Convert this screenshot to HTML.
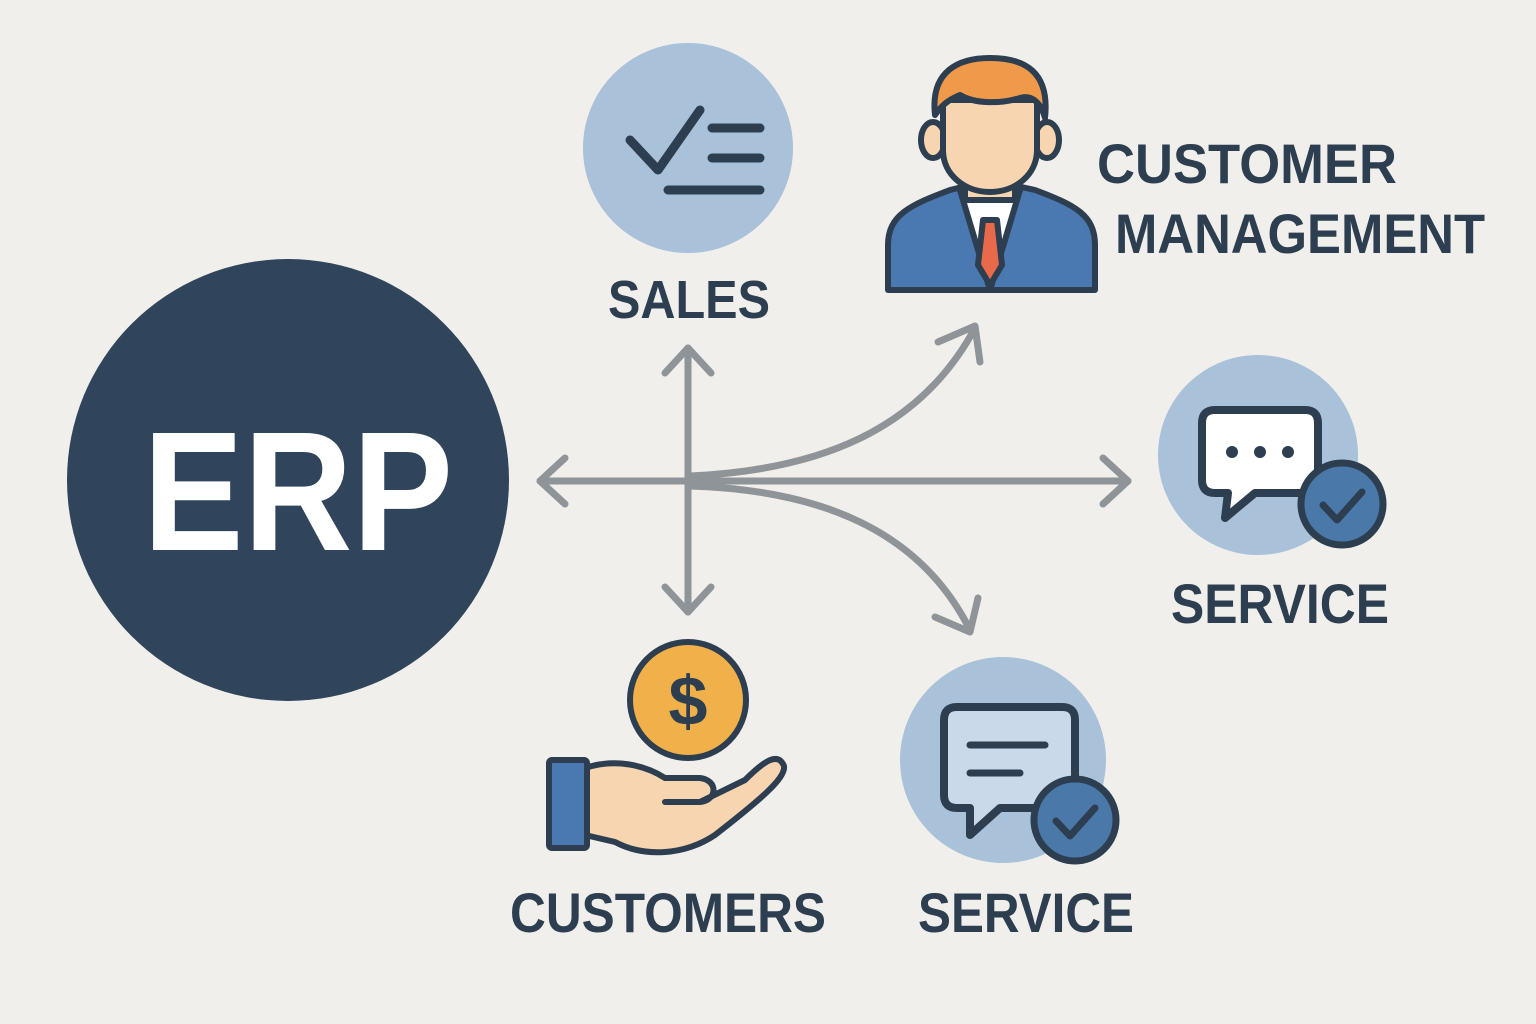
<!DOCTYPE html>
<html><head><meta charset="utf-8"><style>
html,body{margin:0;padding:0;background:#f1efeb;}
svg{display:block;}
text{font-family:"Liberation Sans",sans-serif;font-weight:bold;fill:#2c3e50;}
</style></head><body>
<svg width="1536" height="1024" viewBox="0 0 1536 1024" xmlns="http://www.w3.org/2000/svg">
<rect width="1536" height="1024" fill="#f1efeb"/>
<circle cx="288" cy="480" r="221" fill="#30455c"/>
<text x="298" y="550" text-anchor="middle" font-size="170" style="fill:#fff" textLength="310" lengthAdjust="spacingAndGlyphs">ERP</text>

<g stroke="#8f9499" stroke-width="7" fill="none" stroke-linecap="round" stroke-linejoin="round">
<line x1="540" y1="481" x2="1128" y2="481"/>
<polyline points="565,458 540,481 565,504"/>
<polyline points="1103,458 1128,481 1103,504"/>
<line x1="688" y1="348" x2="688" y2="612"/>
<polyline points="665,373 688,348 711,373"/>
<polyline points="665,587 688,612 711,587"/>
<path d="M690,476 C820,470 920,430 975,328"/>
<polyline points="938,342 975,326 980,362"/>
<path d="M690,486 C820,490 920,530 970,630"/>
<polyline points="935,617 970,632 978,598"/>
</g>

<circle cx="688" cy="148" r="105" fill="#a9c1d9"/>
<g stroke="#2c3e50" stroke-width="9" fill="none" stroke-linecap="round" stroke-linejoin="round">
<polyline points="630,140 658,170 700,110"/>
<line x1="712" y1="128" x2="760" y2="128"/>
<line x1="712" y1="158" x2="760" y2="158"/>
<line x1="668" y1="190" x2="760" y2="190"/>
</g>
<text x="689" y="318" text-anchor="middle" font-size="54" textLength="162" lengthAdjust="spacingAndGlyphs">SALES</text>

<g stroke="#2c3e50" stroke-width="6" stroke-linejoin="round">
<path d="M888,290 L888,245 C888,215 910,205 950,190 L990,180 L1035,190 C1075,205 1095,215 1095,245 L1095,290 Z" fill="#4a78b0"/>
<path d="M960,190 L990,290 L1020,190 Z" fill="#fff"/>
<path d="M983,220 L997,220 L1002,265 L990,285 L978,265 Z" fill="#e86a4a"/>
<rect x="965" y="165" width="50" height="35" fill="#f7d5b0"/>
<ellipse cx="933" cy="140" rx="12" ry="18" fill="#f7d5b0"/>
<ellipse cx="1047" cy="140" rx="12" ry="18" fill="#f7d5b0"/>
<path d="M943,100 L943,150 C943,175 965,192 990,192 C1015,192 1037,175 1037,150 L1037,100 Z" fill="#f7d5b0"/>
<path d="M935,115 C930,70 960,58 990,58 C1025,58 1050,72 1045,118 C1040,100 1030,95 1020,98 C1000,104 975,104 960,95 C948,100 942,105 935,115 Z" fill="#ef9a4a"/>
</g>
<text x="1097" y="183" font-size="56" textLength="300" lengthAdjust="spacingAndGlyphs">CUSTOMER</text>
<text x="1115" y="253" font-size="56" textLength="370" lengthAdjust="spacingAndGlyphs">MANAGEMENT</text>

<circle cx="1258" cy="455" r="100" fill="#a9c1d9"/>
<path d="M1215,410 L1305,410 Q1318,410 1318,423 L1318,480 Q1318,493 1305,493 L1255,493 L1225,518 L1228,493 L1215,493 Q1202,493 1202,480 L1202,423 Q1202,410 1215,410 Z" fill="#fff" stroke="#2c3e50" stroke-width="8" stroke-linejoin="round"/>
<circle cx="1232" cy="452" r="6" fill="#2c3e50"/><circle cx="1260" cy="452" r="6" fill="#2c3e50"/><circle cx="1288" cy="452" r="6" fill="#2c3e50"/>
<circle cx="1342" cy="504" r="41" fill="#4a78a8" stroke="#2c3e50" stroke-width="7"/>
<polyline points="1323,505 1337,520 1362,492" fill="none" stroke="#2c3e50" stroke-width="7" stroke-linecap="round" stroke-linejoin="round"/>
<text x="1280" y="623" text-anchor="middle" font-size="56" textLength="218" lengthAdjust="spacingAndGlyphs">SERVICE</text>

<circle cx="1003" cy="760" r="103" fill="#a9c1d9"/>
<path d="M957,707 L1062,707 Q1075,707 1075,720 L1075,795 Q1075,808 1062,808 L1000,808 L970,835 L970,808 L957,808 Q944,808 944,795 L944,720 Q944,707 957,707 Z" fill="#c9d9e9" stroke="#2c3e50" stroke-width="8" stroke-linejoin="round"/>
<g stroke="#2c3e50" stroke-width="7" stroke-linecap="round"><line x1="970" y1="745" x2="1045" y2="745"/><line x1="970" y1="773" x2="1020" y2="773"/></g>
<circle cx="1075" cy="820" r="41" fill="#4a78a8" stroke="#2c3e50" stroke-width="7"/>
<polyline points="1056,821 1070,836 1095,808" fill="none" stroke="#2c3e50" stroke-width="7" stroke-linecap="round" stroke-linejoin="round"/>
<text x="1026" y="932" text-anchor="middle" font-size="56" textLength="216" lengthAdjust="spacingAndGlyphs">SERVICE</text>

<circle cx="688" cy="700" r="58" fill="#f0b04a" stroke="#2c3e50" stroke-width="6"/>
<text x="688" y="725" text-anchor="middle" font-size="70">$</text>
<g stroke="#2c3e50" stroke-width="6" stroke-linejoin="round" stroke-linecap="round">
<path d="M585,768 C615,758 645,765 665,778 L700,778 C718,780 718,800 700,802 L665,802 L700,802 L745,780 C765,760 778,752 784,766 C786,778 760,800 715,835 C685,855 645,858 615,842 L585,835 Z" fill="#f7d5b0"/>
<rect x="549" y="760" width="38" height="88" rx="3" fill="#4a78b0"/>
</g>
<text x="668" y="932" text-anchor="middle" font-size="56" textLength="316" lengthAdjust="spacingAndGlyphs">CUSTOMERS</text>
</svg>
</body></html>
